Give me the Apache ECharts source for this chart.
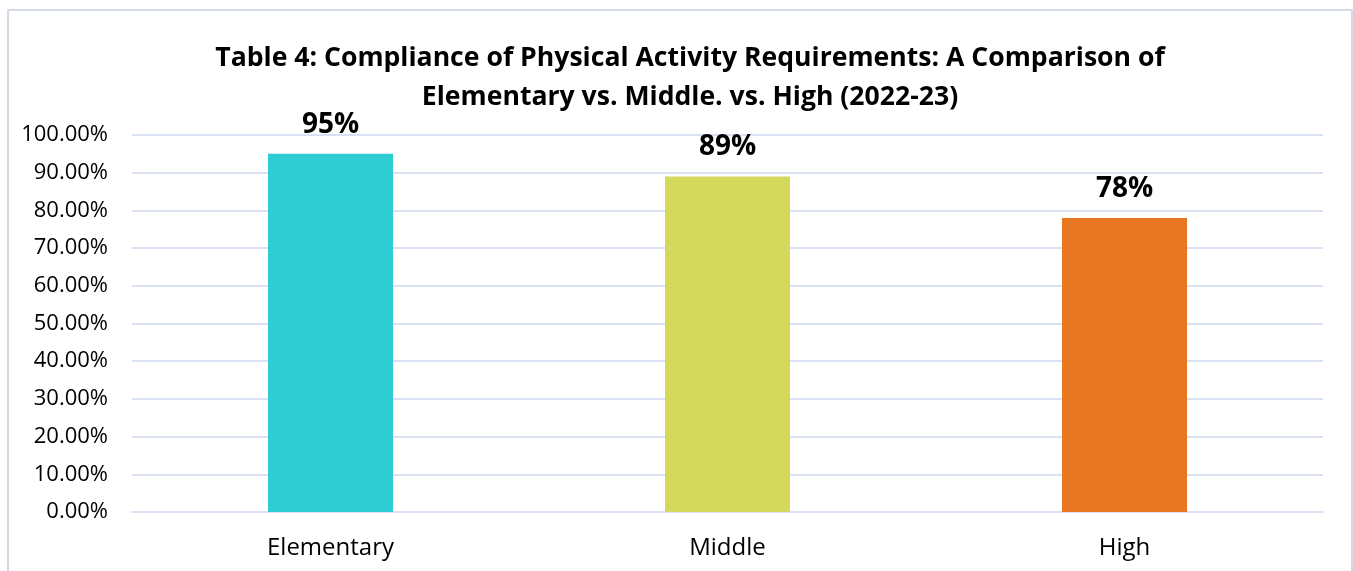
<!DOCTYPE html>
<html>
<head>
    <meta charset="UTF-8">
    <title>Echarts</title>
    <script type="text/javascript" src="https://cdn.jsdelivr.net/npm/echarts@6/dist/echarts.min.js"></script>
    <style>
        html, body { margin: 0; padding: 0; background: #fff; }
    </style>
</head>
<body>
    <div id="main" style="width: 1353px;height:571px;"></div>
    <script type="text/javascript">
        var categories = ['Elementary', 'Middle', 'High'];
        var compliance = [0.95, 0.89, 0.78];
        var barColors = ['#2ECCD3', '#D4D95B', '#E87722'];

        var myChart = echarts.init(document.getElementById('main'));

        var option = {
            backgroundColor: '#fff',
            textStyle: { fontFamily: 'Open Sans' },
            title: {
                text: 'Table 4: Compliance of Physical Activity Requirements: A Comparison of\nElementary vs. Middle. vs. High (2022-23)',
                left: 685,
                top: 34,
                textAlign: 'center',
                textStyle: {
                    fontFamily: 'Open Sans',
                    fontSize: 26.6,
                    fontWeight: 'bold',
                    color: '#000',
                    lineHeight: 39
                }
            },
            graphic: [{
                type: 'rect',
                silent: true,
                shape: { x: 8, y: 10, width: 1344, height: 700 },
                style: { fill: 'none', stroke: '#D6DCE5', lineWidth: 2 }
            }],
            grid: {
                left: 132,
                right: 30,
                top: 135,
                bottom: 59
            },
            xAxis: {
                type: 'category',
                data: categories,
                axisTick: { show: false },
                axisLine: { lineStyle: { color: '#D9E1F2', width: 2 } },
                axisLabel: {
                    color: '#000',
                    fontSize: 24,
                    margin: 24
                }
            },
            yAxis: {
                type: 'value',
                min: 0,
                max: 1,
                interval: 0.1,
                axisLine: { show: false },
                axisTick: { show: false },
                splitLine: { lineStyle: { color: '#D9E1F2', width: 2 } },
                axisLabel: {
                    color: '#000',
                    fontSize: 22,
                    margin: 24,
                    formatter: function (v) { return (v * 100).toFixed(2) + '%'; }
                }
            },
            series: [{
                type: 'bar',
                barWidth: 125,
                data: compliance.map(function (v, i) {
                    return { value: v, itemStyle: { color: barColors[i] } };
                }),
                label: {
                    show: true,
                    position: 'top',
                    distance: 15,
                    color: '#000',
                    fontSize: 28,
                    fontWeight: 'bold',
                    formatter: function (p) { return Math.round(p.value * 100) + '%'; }
                }
            }]
        };

        myChart.setOption(option);
    </script>
</body>
</html>
